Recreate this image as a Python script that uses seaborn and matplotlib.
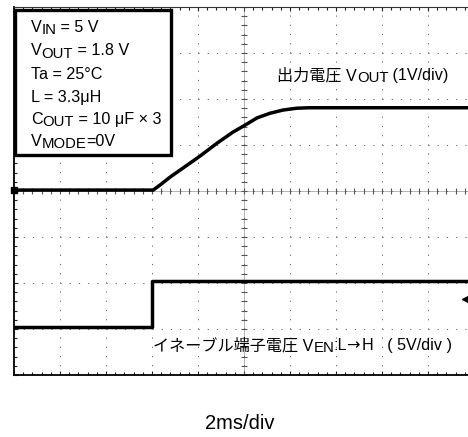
import numpy as np
import pandas as pd
import matplotlib
matplotlib.use("Agg")
import matplotlib.pyplot as plt
import matplotlib.patches as mpatches
from matplotlib.transforms import IdentityTransform
from matplotlib.ticker import MultipleLocator
import seaborn as sns

# ---------------- data ----------------
# time in ms (2 ms/div, 0 = left edge of screen)
vout_t_ms = [0.0, 6.05, 6.35, 6.78, 7.35, 8.09, 8.83, 9.52, 10.04, 10.57, 11.13, 11.70, 12.30, 12.87, 20.0]
vout_v    = [0.0, 0.00, 0.11, 0.28, 0.48, 0.74, 1.02, 1.26, 1.41, 1.57, 1.67, 1.74, 1.78, 1.79, 1.79]
ven_t_ms  = [0.0, 5.98, 5.98, 20.0]
ven_v     = [0.0, 0.0, 5.0, 5.0]

vout_scale = 1.0     # V/div
ven_scale = 5.0      # V/div
vout_offset = 0.02   # div (ground marker position)
ven_offset = -2.96   # div
trigger_level_v = 3.05
trigger_t_ms = 19.6

box_lines = [
    [("V", False), ("IN", True), (" = 5 V", False)],
    [("V", False), ("OUT", True), (" = 1.8 V", False)],
    [("Ta = 25°C", False)],
    [("L = 3.3μH", False)],
    [("C", False), ("OUT", True), (" = 10 μF × 3", False)],
    [("V", False), ("MODE", True), ("=0V", False)],
]
vout_label = [("出力電圧 V", False), ("OUT", True), (" (1V/div)", False)]
ven_label = [("イネーブル端子電圧 V", False), ("EN", True), (":L", False), ("→", "arrow"),
             ("H   ( 5V/div )", False)]
time_label = "2ms/div"

# ---------------- style ----------------
sns.set_theme(style="white")
plt.rcParams["lines.scale_dashes"] = False
FAM = ["Liberation Sans", "Noto Sans CJK JP", "DejaVu Sans"]
ARROW_FAM = ["DejaVu Sans"]
plt.rcParams["font.family"] = FAM

W, H = 468, 437
fig = plt.figure(figsize=(W / 100, H / 100), dpi=100)
fig.patch.set_facecolor("white")
ax = fig.add_axes([14 / W, (H - 375) / H, 460 / W, 368 / H])
ax.set_facecolor("white")

df_vout = pd.DataFrame({"t": vout_t_ms, "div": [vout_offset + v / vout_scale for v in vout_v]})
df_ven = pd.DataFrame({"t": ven_t_ms, "div": [ven_offset + v / ven_scale for v in ven_v]})

ax.set_xlim(0, 20)
ax.set_ylim(-4, 4)

px = 0.72  # one pixel in points
# dotted graticule
ax.xaxis.set_major_locator(MultipleLocator(2))
ax.xaxis.set_minor_locator(MultipleLocator(0.4))
ax.yaxis.set_major_locator(MultipleLocator(1))
ax.yaxis.set_minor_locator(MultipleLocator(0.2))
ax.grid(True, which="major", color="#6a6a6a", linewidth=px,
        linestyle=(0, (px * 1.2, 9.2 * px - px * 1.2)))
ax.set_axisbelow(True)

# centre cross with fine ticks
ax.axhline(0, color="#707070", lw=px, ls=(0, (px, px)), zorder=1)
ax.axvline(10, color="#707070", lw=px, ls=(0, (px, px)), zorder=1)
xs = np.arange(0, 20.01, 0.4)
ys = np.arange(-4, 4.01, 0.2)
ax.plot(xs, np.zeros_like(xs), ls="none", marker="|", ms=4, mew=0.8, color="#555555", zorder=1)
ax.plot(np.full_like(ys, 10), ys, ls="none", marker="_", ms=4, mew=0.8, color="#555555", zorder=1)

# traces
sns.lineplot(data=df_vout, x="t", y="div", sort=False, estimator=None, color="black",
             linewidth=2.5, ax=ax, zorder=3)
sns.lineplot(data=df_ven, x="t", y="div", sort=False, estimator=None, color="black",
             linewidth=2.5, ax=ax, zorder=3)

# channel / trigger markers
ax.plot([0], [vout_offset], marker="s", ms=4, color="black", clip_on=False, zorder=4)
ax.plot([trigger_t_ms], [ven_offset + trigger_level_v / ven_scale], marker="<", ms=5,
        color="black", clip_on=False, zorder=4)

ax.set_xlabel("")
ax.set_ylabel("")
ax.tick_params(which="both", direction="in", top=True, right=False, bottom=True, left=True,
               labelbottom=False, labelleft=False, color="#222222")
ax.tick_params(which="major", length=3, width=0.8)
ax.tick_params(which="minor", length=2.5, width=0.8)
for side in ["left", "bottom"]:
    ax.spines[side].set_color("black")
    ax.spines[side].set_linewidth(1.3)
ax.spines["top"].set_color("#333333")
ax.spines["top"].set_linewidth(0.8)
ax.spines["right"].set_visible(False)

# condition box
bx0, bx1, by0, by1 = 14.6, 171.4, 9.6, 155.4
rect = mpatches.Rectangle((bx0 / W, (H - by1) / H), (bx1 - bx0) / W, (by1 - by0) / H,
                          transform=fig.transFigure, facecolor="white", edgecolor="black",
                          linewidth=2.4, zorder=5)
fig.add_artist(rect)

renderer = fig.canvas.get_renderer()


def rich(x, y_base, pieces, size=11.6):
    cx = x
    for s, kind in pieces:
        sub = kind is True
        fam = ARROW_FAM if kind == "arrow" else FAM
        fs = size * 0.92 if sub else size
        dy = -2.5 if sub else 0.0
        if kind == "arrow":
            cx -= 1.0
        t = fig.text(cx, H - y_base + dy, s, fontsize=fs, family=fam, ha="left",
                     va="baseline", transform=IdentityTransform(), zorder=6, color="black")
        cx += t.get_window_extent(renderer).width
        if kind == "arrow":
            cx += 2.0
        if s.endswith(("E", "T", "N")):
            cx -= 0.5


for i, line in enumerate(box_lines):
    rich(31, [32, 55, 79, 102, 124, 146][i], line)

rich(277, 80, vout_label)
rich(153, 350, ven_label)
fig.text(240 / W, (H - 429) / H, time_label, fontsize=14.5, ha="center", va="baseline",
         family=FAM, color="black")

fig.savefig("out.png", dpi=100, facecolor="white")
